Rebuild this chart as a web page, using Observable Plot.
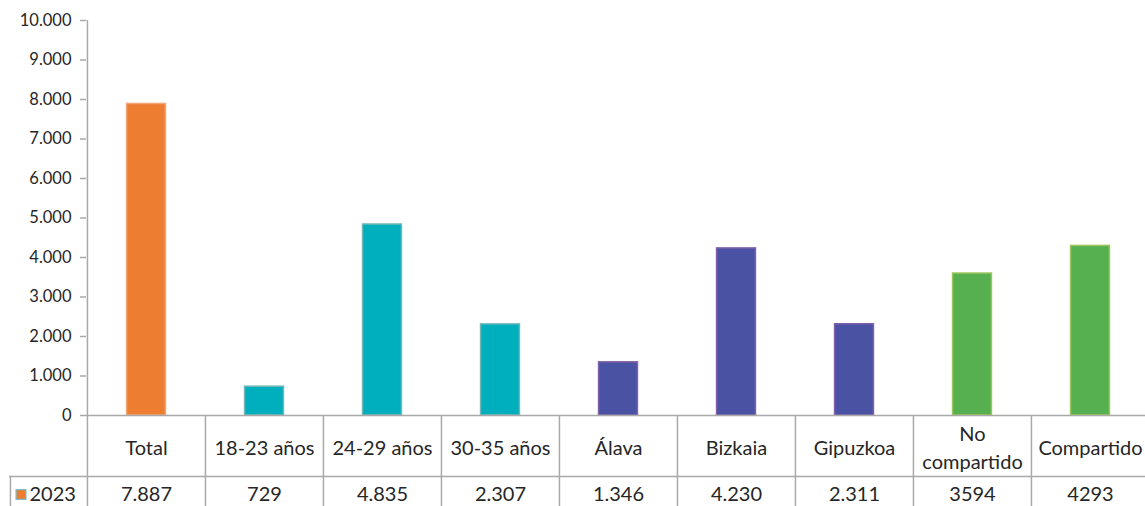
<!DOCTYPE html>
<html>
<head>
<meta charset="utf-8">
<script src="https://cdn.jsdelivr.net/npm/d3@7"></script>
<script src="https://cdn.jsdelivr.net/npm/@observablehq/plot@0.6"></script>
<style>
  html, body { margin: 0; padding: 0; background: #fff; }
  #chart { width: 1145px; height: 506px; overflow: hidden; }
  svg { font-family: Lato, "Open Sans", sans-serif; }
</style>
</head>
<body>
<div id="chart"></div>
<script>
// ---- data ----
const categories = ["Total", "18-23 años", "24-29 años", "30-35 años", "Álava", "Bizkaia", "Gipuzkoa", "No\ncompartido", "Compartido"];
const values2023 = [7887, 729, 4835, 2307, 1346, 4230, 2311, 3594, 4293];
const valueLabels = ["7.887", "729", "4.835", "2.307", "1.346", "4.230", "2.311", "3594", "4293"];
const groups = ["total", "edad", "edad", "edad", "territorio", "territorio", "territorio", "vivienda", "vivienda"];
const seriesName = "2023";
const yTicks = [0, 1000, 2000, 3000, 4000, 5000, 6000, 7000, 8000, 9000, 10000];

// ---- styles ----
const fillColors = {total: "#ED7D31", edad: "#00AFBD", territorio: "#4A52A3", vivienda: "#57B04F"};
const strokeColors = {total: "#F4A672", edad: "#6FB6B8", territorio: "#8060A8", vivienda: "#9CC45C"};
const lineColor = "#A9A9A9";
const textColor = "#262626";

const W = 1145, H = 506;
const x0 = 86, x1 = 1149, yBase = 415, yTop = 20;
const step = (x1 - x0) / categories.length;
const barW = 39;
const inset = (step - barW) / 2;

const data = categories.map((c, i) => ({cat: c, value: values2023[i], label: valueLabels[i], group: groups[i]}));

const nf = d3.formatLocale({decimal: ",", thousands: ".", grouping: [3], currency: ["", ""]}).format(",d");

const chart = Plot.plot({
  width: W,
  height: H,
  marginTop: 0, marginBottom: 0, marginLeft: 0, marginRight: 0,
  x: {type: "band", domain: categories, range: [x0, x1], padding: 0, axis: null},
  y: {domain: [0, 10000], range: [yBase, yTop], axis: null},
  color: {type: "identity"},
  style: {fontFamily: "Lato, 'Open Sans', sans-serif", color: textColor, background: "#fff"},
  marks: [
    // bars
    Plot.barY(data, {
      x: "cat", y: "value",
      fill: d => fillColors[d.group],
      stroke: d => strokeColors[d.group],
      strokeWidth: 1.5,
      insetLeft: inset, insetRight: inset
    }),
    // y tick marks
    Plot.ruleY(yTicks, {y: d => d, insetLeft: x0 - 6, insetRight: W - x0, stroke: lineColor, strokeWidth: 1.5}),
    // y tick labels
    Plot.text(yTicks, {y: d => d, frameAnchor: "left", dx: 71, textAnchor: "end", text: d => nf(d), fontSize: 16.5, fill: textColor}),
    // baseline (category axis) from the y axis to the right edge
    Plot.ruleY([0], {insetLeft: x0, stroke: lineColor, strokeWidth: 1.5}),
    // y axis line extended through the table
    Plot.ruleX([categories[0]], {dx: -step / 2, insetTop: yTop, stroke: lineColor, strokeWidth: 1.5}),
    // table vertical separators
    Plot.ruleX(categories.slice(1), {dx: -step / 2, insetTop: yBase, stroke: lineColor, strokeWidth: 1.5}),
    Plot.ruleX([categories[categories.length - 1]], {dx: step / 2, insetTop: yBase, stroke: lineColor, strokeWidth: 1.5}),
    // table horizontal separator above values row (includes legend cell)
    Plot.ruleY([0], {dy: 61, insetLeft: 9, stroke: lineColor, strokeWidth: 1.5}),
    // legend cell left border
    Plot.ruleX([categories[0]], {dx: -step / 2 - (x0 - 9), insetTop: yBase + 61, stroke: lineColor, strokeWidth: 1.5}),
    // category labels
    Plot.text(data, {x: "cat", y: 0, dy: 31, text: "cat", fontSize: 20, lineHeight: 1.4, fill: textColor}),
    // values row
    Plot.text(data, {x: "cat", y: 0, dy: 79, text: "label", fontSize: 20, fill: textColor}),
    // legend key
    Plot.dot([seriesName], {frameAnchor: "left", y: 0, dy: 79, dx: 20.5, symbol: "square", r: 5.6, fill: fillColors.total, stroke: "#7DBDC6", strokeWidth: 1.2}),
    Plot.text([seriesName], {frameAnchor: "left", y: 0, dy: 79, dx: 29, textAnchor: "start", text: d => d, fontSize: 20, fill: textColor})
  ]
});

document.getElementById("chart").appendChild(chart);
</script>
</body>
</html>
